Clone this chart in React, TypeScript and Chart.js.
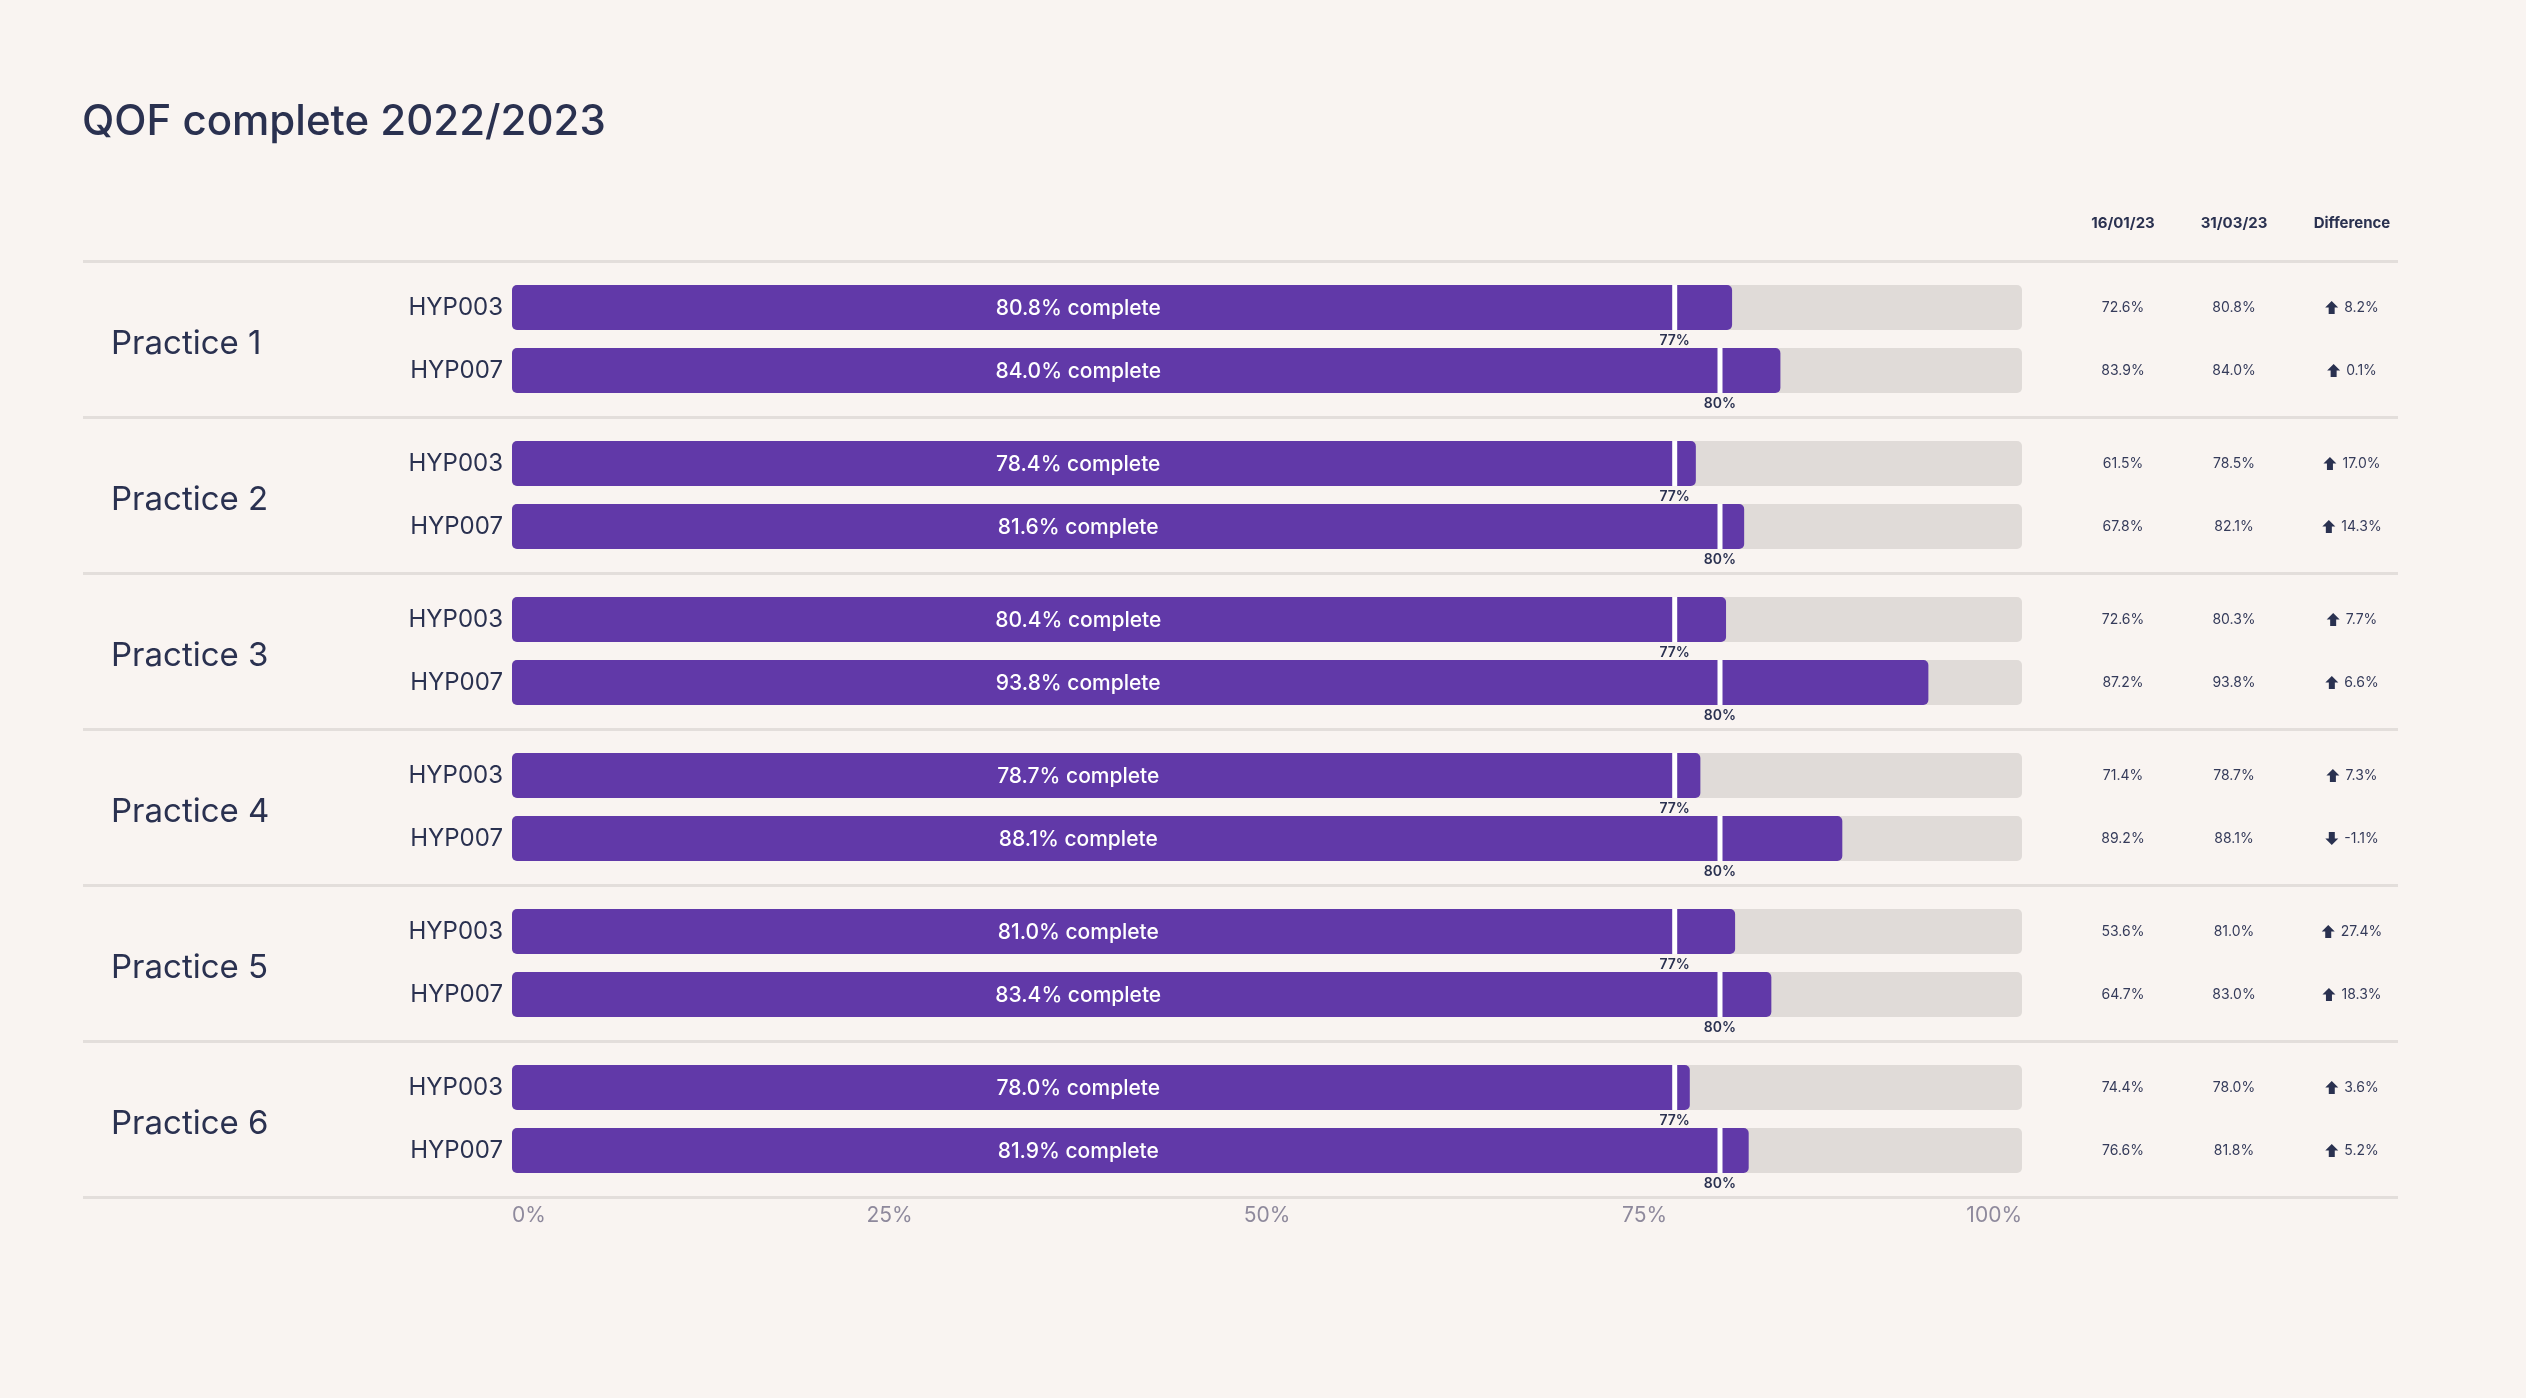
import { useEffect, useRef } from 'react';
import { Chart, registerables } from 'chart.js';

Chart.register(...registerables);

const TITLE = 'QOF complete 2022/2023';
const practices = ['Practice 1', 'Practice 2', 'Practice 3', 'Practice 4', 'Practice 5', 'Practice 6'];
const indicators = ['HYP003', 'HYP007'];
const targets = [77, 80];
const hyp003Complete = [80.8, 78.4, 80.4, 78.7, 81.0, 78.0];
const hyp007Complete = [84.0, 81.6, 93.8, 88.1, 83.4, 81.9];
const trackValues = [100, 100, 100, 100, 100, 100];
const xTicks = [0, 25, 50, 75, 100];
const tableHeaders = ['16/01/23', '31/03/23', 'Difference'];
const hyp003Jan = [72.6, 61.5, 72.6, 71.4, 53.6, 74.4];
const hyp003Mar = [80.8, 78.5, 80.3, 78.7, 81.0, 78.0];
const hyp003Diff = [8.2, 17.0, 7.7, 7.3, 27.4, 3.6];
const hyp007Jan = [83.9, 67.8, 87.2, 89.2, 64.7, 76.6];
const hyp007Mar = [84.0, 82.1, 93.8, 88.1, 83.0, 81.8];
const hyp007Diff = [0.1, 14.3, 6.6, -1.1, 18.3, 5.2];

const W = 2526;
const H = 1398;
const BG = '#F9F4F1';
const NAVY = '#2A3150';
const PURPLE = '#6139A8';
const TRACK = '#E0DBD8';
const SEP = '#E3DEDB';
const TICK = '#8E899C';
const FONT = 'Inter';
const LABEL_AT = 37.5;
const COL_X = [2123, 2234, 2352];

function drawArrow(ctx: CanvasRenderingContext2D, x: number, cy: number, up: boolean) {
  const w = 13;
  const h = 13;
  const stem = 6;
  const top = cy - h / 2;
  ctx.beginPath();
  if (up) {
    ctx.moveTo(x + w / 2, top);
    ctx.lineTo(x + w, top + h * 0.5);
    ctx.lineTo(x + w / 2 + stem / 2, top + h * 0.5);
    ctx.lineTo(x + w / 2 + stem / 2, top + h);
    ctx.lineTo(x + w / 2 - stem / 2, top + h);
    ctx.lineTo(x + w / 2 - stem / 2, top + h * 0.5);
    ctx.lineTo(x, top + h * 0.5);
  } else {
    ctx.moveTo(x + w / 2, top + h);
    ctx.lineTo(x + w, top + h * 0.5);
    ctx.lineTo(x + w / 2 + stem / 2, top + h * 0.5);
    ctx.lineTo(x + w / 2 + stem / 2, top);
    ctx.lineTo(x + w / 2 - stem / 2, top);
    ctx.lineTo(x + w / 2 - stem / 2, top + h * 0.5);
    ctx.lineTo(x, top + h * 0.5);
  }
  ctx.closePath();
  ctx.fill();
}

const overlay = {
  id: 'overlay',
  beforeDatasetsDraw(chart: any) {
    const ctx = chart.ctx as CanvasRenderingContext2D;
    const y = chart.scales.y;
    const step = y.getPixelForValue(1) - y.getPixelForValue(0);
    ctx.save();
    ctx.strokeStyle = SEP;
    ctx.lineWidth = 3;
    for (let i = 0; i <= practices.length; i++) {
      const py = Math.round(y.getPixelForValue(i) - step / 2) + 0.5;
      ctx.beginPath();
      ctx.moveTo(83, py);
      ctx.lineTo(2398, py);
      ctx.stroke();
    }
    ctx.restore();
  },
  afterDatasetsDraw(chart: any) {
    const ctx = chart.ctx as CanvasRenderingContext2D;
    const x = chart.scales.x;
    const y = chart.scales.y;
    const metas = [chart.getDatasetMeta(1), chart.getDatasetMeta(3)];
    const complete = [hyp003Complete, hyp007Complete];
    const jan = [hyp003Jan, hyp007Jan];
    const mar = [hyp003Mar, hyp007Mar];
    const diff = [hyp003Diff, hyp007Diff];
    ctx.save();
    metas.forEach((meta: any, k: number) => {
      meta.data.forEach((bar: any, i: number) => {
        const cy = bar.y;
        const hh = bar.height;
        const top = cy - hh / 2;
        const bottom = cy + hh / 2;
        const mx = x.getPixelForValue(targets[k]);
        ctx.fillStyle = '#FFFFFF';
        ctx.fillRect(mx - 2.5, top, 5, hh);

        ctx.textBaseline = 'middle';
        ctx.textAlign = 'center';
        ctx.fillStyle = NAVY;
        ctx.font = `600 14px ${FONT}`;
        ctx.fillText(`${targets[k]}%`, mx, bottom + 11);

        ctx.fillStyle = '#FFFFFF';
        ctx.font = `500 21px ${FONT}`;
        ctx.fillText(`${complete[k][i].toFixed(1)}% complete`, x.getPixelForValue(LABEL_AT), cy + 1);

        ctx.fillStyle = NAVY;
        ctx.textAlign = 'right';
        ctx.font = `400 24px ${FONT}`;
        ctx.fillText(indicators[k], chart.chartArea.left - 9, cy);

        ctx.textAlign = 'center';
        ctx.font = `400 14px ${FONT}`;
        ctx.fillStyle = '#353B5A';
        ctx.fillText(`${jan[k][i].toFixed(1)}%`, COL_X[0], cy);
        ctx.fillText(`${mar[k][i].toFixed(1)}%`, COL_X[1], cy);
        const d = diff[k][i];
        const txt = `${d.toFixed(1)}%`;
        const tw = ctx.measureText(txt).width;
        const total = 13 + 6 + tw;
        const sx = COL_X[2] - total / 2;
        ctx.fillStyle = NAVY;
        drawArrow(ctx, sx, cy, d >= 0);
        ctx.fillStyle = '#353B5A';
        ctx.textAlign = 'left';
        ctx.fillText(txt, sx + 19, cy);
      });
    });

    ctx.fillStyle = NAVY;
    ctx.textAlign = 'left';
    ctx.textBaseline = 'alphabetic';
    ctx.font = `400 33px ${FONT}`;
    practices.forEach((p, i) => {
      ctx.fillText(p, 111, y.getPixelForValue(i) + 15);
    });

    ctx.font = `500 42px ${FONT}`;
    ctx.fillText(TITLE, 82, 135);

    ctx.textAlign = 'center';
    ctx.textBaseline = 'middle';
    ctx.font = `700 15px ${FONT}`;
    tableHeaders.forEach((h, i) => {
      ctx.fillText(h, COL_X[i], 223);
    });
    ctx.restore();
  },
};

export default function App() {
  const ref = useRef<HTMLCanvasElement | null>(null);
  useEffect(() => {
    document.body.style.margin = '0';
    document.body.style.background = BG;
    const canvas = ref.current;
    if (!canvas) return;
    Chart.defaults.font.family = FONT;
    const chart = new Chart(canvas, {
      type: 'bar',
      data: {
        labels: practices,
        datasets: [
          { label: 'HYP003 track', data: trackValues, stack: 'HYP003', order: 2, backgroundColor: TRACK },
          { label: 'HYP003', data: hyp003Complete, stack: 'HYP003', order: 1, backgroundColor: PURPLE },
          { label: 'HYP007 track', data: trackValues, stack: 'HYP007', order: 2, backgroundColor: TRACK },
          { label: 'HYP007', data: hyp007Complete, stack: 'HYP007', order: 1, backgroundColor: PURPLE },
        ] as any,
      },
      options: {
        indexAxis: 'y',
        responsive: false,
        animation: false,
        devicePixelRatio: 1,
        layout: { padding: { left: 512, right: W - 2022, top: 261, bottom: H - 1197 - 60 } },
        datasets: {
          bar: {
            categoryPercentage: 0.8077,
            barPercentage: 0.714,
            borderRadius: 5,
            borderSkipped: false,
          },
        } as any,
        scales: {
          x: {
            min: 0,
            max: 100,
            stacked: false,
            grid: { display: false, drawTicks: false },
            border: { display: false },
            ticks: {
              align: 'inner',
              stepSize: 25,
              padding: 6,
              color: TICK,
              font: { size: 21, family: FONT },
              callback: (v: any) => `${v}%`,
            },
            afterFit: (s: any) => {
              s.height = 60;
            },
            afterBuildTicks: (s: any) => {
              s.ticks = xTicks.map((v) => ({ value: v }));
            },
          } as any,
          y: { display: false },
        },
        plugins: {
          legend: { display: false },
          tooltip: { enabled: false },
          title: { display: false },
        },
      },
      plugins: [overlay],
    });
    return () => chart.destroy();
  }, []);
  return (
    <div style={{ position: 'fixed', left: 0, top: 0, width: W, height: H, background: BG }}>
      <canvas ref={ref} width={W} height={H} style={{ width: W, height: H, display: 'block' }} />
    </div>
  );
}
